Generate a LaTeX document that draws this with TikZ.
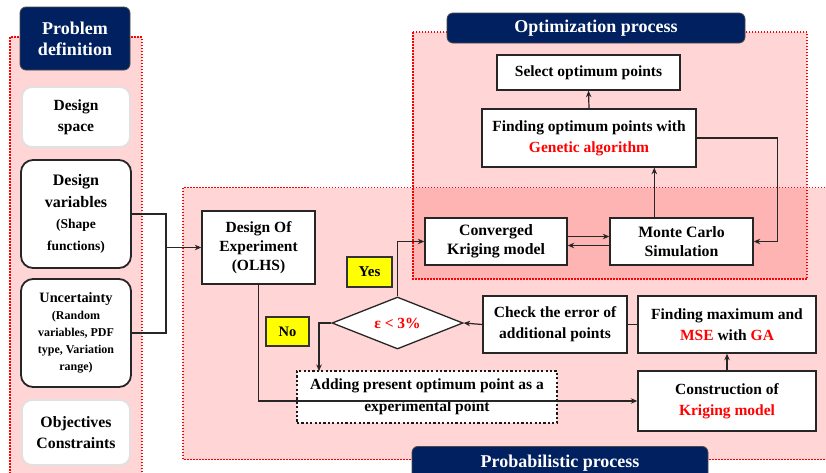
\documentclass[tikz,border=0pt]{standalone}
\usepackage{fontspec}
\setmainfont{Liberation Serif}
\usetikzlibrary{shapes.geometric,arrows.meta,calc}
\definecolor{pinkbg}{RGB}{255,213,213}
\definecolor{pinkdark}{RGB}{255,180,180}
\definecolor{navy}{RGB}{0,32,96}
\definecolor{tagyellow}{RGB}{255,255,0}
\definecolor{lightedge}{RGB}{225,225,225}
\begin{document}
\begin{tikzpicture}[x=1pt,y=-1pt,
  cont/.style={fill=pinkbg,draw=red,line width=1.5pt,dash pattern=on 1.5pt off 1.5pt},
  box/.style={draw=black!85,line width=1.4pt,fill=white,align=center,inner sep=0pt,
    font=\bfseries\fontsize{15.5}{19.5}\selectfont},
  rbox/.style={box,rounded corners=12pt,line width=1.8pt},
  lbox/.style={box,rounded corners=10pt,draw=lightedge,line width=1.8pt},
  ttl/.style={fill=navy,draw=black!70,line width=0.8pt,rounded corners=6pt,text=white,align=center,
    inner sep=0pt,font=\bfseries\fontsize{18}{21}\selectfont},
  tagbox/.style={fill=tagyellow,draw=black!80,line width=1.1pt,inner sep=0pt,
    font=\bfseries\fontsize{15}{16}\selectfont},
  arr/.style={-{Stealth[length=6.5pt,width=5.5pt]},line width=1.2pt,draw=black!85},
  ln/.style={line width=1.2pt,draw=black!85}]
\useasboundingbox (0,0) rectangle (826,472);
\clip (0,0) rectangle (826,472);
\fill[white] (0,0) rectangle (826,472);
% containers
\path[cont] (10,37) rectangle (142,490);
\path[fill=pinkbg] (183,187.5) rectangle (850,459.5);
\path[fill=pinkbg] (413,32) rectangle (807,279);
\path[fill=pinkdark] (413,187.5) rectangle (807,279);
\path[cont,fill=none] (183,187.5) rectangle (850,459.5);
\path[cont,fill=none] (413,32) rectangle (807,279);
% titles
\node[ttl,minimum width=110pt,minimum height=63pt] (pdt) at (75,38.5) {Problem\\definition};
\node[ttl,minimum width=298pt,minimum height=30pt] (opt) at (596,28) {Optimization process};
\node[ttl,minimum width=296pt,minimum height=34pt,anchor=north] (prt) at (560,446) {\raisebox{-3pt}{Probabilistic process}};
% problem definition boxes
\node[lbox,minimum width=108pt,minimum height=60pt,font=\bfseries\fontsize{15.5}{21}\selectfont] (dsp) at (76,117) {Design\\space};
\node[rbox,minimum width=110pt,minimum height=108pt,font=\bfseries\fontsize{16}{21.5}\selectfont] (dvar) at (76,214)
  {Design\\variables\\{\fontsize{13.5}{21.5}\selectfont (Shape}\\{\fontsize{13.5}{21.5}\selectfont functions)}};
\node[rbox,minimum width=110pt,minimum height=108pt,font=\bfseries\fontsize{12}{17}\selectfont] (unc) at (76,333)
  {{\fontsize{14.3}{17}\selectfont Uncertainty}\\(Random\\variables, PDF\\type, Variation\\range)};
\node[lbox,minimum width=108pt,minimum height=65pt,font=\bfseries\fontsize{15.8}{20.5}\selectfont] (obj) at (76,432.5) {Objectives\\Constraints};
% process boxes
\node[box,minimum width=113pt,minimum height=73pt,font=\bfseries\fontsize{15.5}{19}\selectfont] (doe) at (258.5,247.5) {Design Of\\Experiment\\(OLHS)};
\node[tagbox,minimum width=45pt,minimum height=30pt] (yes) at (369.5,272) {Yes};
\node[tagbox,minimum width=43pt,minimum height=29pt,font=\bfseries\fontsize{14.5}{16}\selectfont] (no) at (287.5,331.5) {No};
\node[diamond,aspect=2.5,draw=black!85,line width=1.3pt,fill=white,inner sep=0pt,
  minimum width=131pt,minimum height=52pt,text=red,font=\bfseries\fontsize{15.5}{18}\selectfont] (dia) at (397.5,323) {ε < 3\%};
\node[box,minimum width=260pt,minimum height=52pt,draw=black!90,line width=2.4pt,dash pattern=on 2.2pt off 2.2pt,
  font=\bfseries\fontsize{15.5}{22}\selectfont] (add) at (427,397) {Adding present optimum point as a\\experimental point};
\node[box,minimum width=144pt,minimum height=57pt,font=\bfseries\fontsize{15.5}{21}\selectfont] (chk) at (555,324.5) {Check the error of\\additional points};
\node[box,minimum width=178pt,minimum height=57pt,font=\bfseries\fontsize{15.5}{21}\selectfont] (fmax) at (727,324.5)
  {Finding maximum and\\\textcolor{red}{MSE} with \textcolor{red}{GA}};
\node[box,minimum width=178pt,minimum height=60pt,font=\bfseries\fontsize{15.5}{21}\selectfont] (con) at (727,401) {Construction of\\\textcolor{red}{Kriging model}};
\node[box,minimum width=142pt,minimum height=47pt,font=\bfseries\fontsize{15.8}{19}\selectfont] (kri) at (496,241.5) {Converged\\Kriging model};
\node[box,minimum width=143pt,minimum height=47pt,font=\bfseries\fontsize{15.8}{19}\selectfont] (mc) at (681.5,241.5) {Monte Carlo\\Simulation};
\node[box,minimum width=214pt,minimum height=58pt,font=\bfseries\fontsize{15.5}{21}\selectfont] (fopt) at (589,138) {Finding optimum points with\\\textcolor{red}{Genetic algorithm}};
\node[box,minimum width=183pt,minimum height=35pt] (sel) at (588.5,72.5) {Select optimum points};
% connectors
\coordinate (jn) at (166,247.5);
\coordinate (addin) at (319,371);
\draw[ln] (dvar.east) -| (jn) |- (unc.east);
\draw[arr] (jn) -- (doe.west);
\draw[arr] (doe.south) |- (con.west);
\draw[arr] (dia.north) |- (kri.west);
\draw[arr] (dia.west) -| (addin);
\draw[arr] (chk.west) -- (dia.east);
\draw[ln] (fmax.west) -- (chk.east);
\draw[arr] (con.north) -- (fmax.south);
\draw[arr] ([yshift=5pt]kri.east) -- ([yshift=5pt]mc.west);
\draw[arr] ([yshift=-4pt]mc.west) -- ([yshift=-4pt]kri.east);
\draw[arr] ([xshift=45pt]mc.north west) -- ([xshift=45pt]mc.north west |- fopt.south);
\draw[arr] (fopt.east) -- ++(81,0) |- (mc.east);
\draw[arr] (fopt.north) -- (sel.south);
\end{tikzpicture}
\end{document}
